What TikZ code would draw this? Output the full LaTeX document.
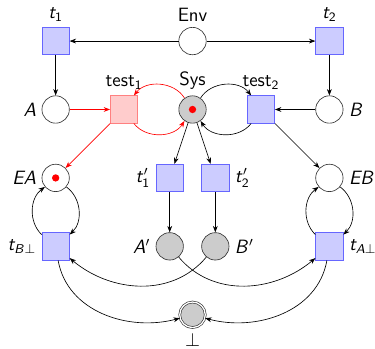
\documentclass[tikz,border=0pt]{standalone}
\usepackage{amsmath, amssymb}
\usepackage{xcolor}
\usepackage{tikz}
\usetikzlibrary{arrows.meta, positioning}
\DeclareMathAlphabet{\mathsfit}{OT1}{cmss}{m}{sl}

\begin{document}
\begin{tikzpicture}[
  font=\sffamily\large,
  place/.style={circle, draw=black!80, thin, minimum size=6mm, inner sep=0pt},
  marked/.style={place, fill=black!20},
  trans/.style={rectangle, draw=blue!60, fill=blue!20, thin, minimum size=6mm, inner sep=0pt},
  testtr/.style={rectangle, draw=red!50, fill=red!20, thin, minimum size=6mm, inner sep=0pt},
  arr/.style={-{Stealth[length=4pt, width=3pt]}, thin},
  redarr/.style={arr, red},
  every label/.style={label distance=0pt}
]
\useasboundingbox (-4.22,0.9) rectangle (4.0,-6.75);

% environment
\node[place] (env) at (0,0)  [label=above:Env] {};
\node[trans] (t1)  at (-3,0) [label=above:{$\mathsfit{t}_{\mathsf{1}}$}] {};
\node[trans] (t2)  at (3,0)  [label=above:{$\mathsfit{t}_{\mathsf{2}}$}] {};

% system and tests
\node[place]  (a)     at (-3,-1.5)   [label=left:{$\mathsfit{A}$}] {};
\node[testtr] (test1) at (-1.5,-1.5) [label=above:{test$_{\mathsf{1}}$}] {};
\node[marked] (sys)   at (0,-1.5)    [label=above:Sys] {};
\node[trans]  (test2) at (1.5,-1.5)  [label=above:{test$_{\mathsf{2}}$}] {};
\node[place]  (b)     at (3,-1.5)    [label=right:{$\mathsfit{B}$}] {};

\node[place] (ea)  at (-3,-3)   [label=left:{$\mathsfit{EA}$}] {};
\node[trans] (t1p) at (-0.5,-3) [label=left:{$\mathsfit{t}'_{\mathsf{1}}$}] {};
\node[trans] (t2p) at (0.5,-3)  [label=right:{$\mathsfit{t}'_{\mathsf{2}}$}] {};
\node[place] (eb)  at (3,-3)    [label=right:{$\mathsfit{EB}$}] {};

\node[trans]  (tb)  at (-3,-4.5)   [label=left:{$\mathsfit{t}_{\mathsfit{B}\bot}$}] {};
\node[marked] (ap)  at (-0.5,-4.5) [label=left:{$\mathsfit{A}'$}] {};
\node[marked] (bp)  at (0.5,-4.5)  [label=right:{$\mathsfit{B}'$}] {};
\node[trans]  (ta)  at (3,-4.5)    [label=right:{$\mathsfit{t}_{\mathsfit{A}\bot}$}] {};

\node[marked, double, double distance=0.8pt, minimum size=5.6mm] (bot) at (0,-6) [label=below:{$\bot$}] {};

% tokens
\fill[red] (sys.center) circle (0.8mm);
\fill[red] (ea.center) circle (0.8mm);

% arcs
\draw[arr] (env) -- (t1);
\draw[arr] (env) -- (t2);
\draw[arr] (t1) -- (a);
\draw[arr] (t2) -- (b);
\draw[redarr] (a) -- (test1);
\draw[arr] (b) -- (test2);
\draw[redarr] (sys) to[bend right=55] (test1);
\draw[redarr] (test1) to[bend right=55] (sys);
\draw[arr] (sys) to[bend left=55] (test2);
\draw[arr] (test2) to[bend left=55] (sys);
\draw[redarr] (test1) -- (ea);
\draw[arr] (test2) -- (eb);
\draw[arr] (sys) -- (t1p);
\draw[arr] (sys) -- (t2p);
\draw[arr] (t1p) -- (ap);
\draw[arr] (t2p) -- (bp);
\draw[arr] (tb) to[bend left=50] (ea);
\draw[arr] (ea) to[bend left=50] (tb);
\draw[arr] (ta) to[bend left=50] (eb);
\draw[arr] (eb) to[bend left=50] (ta);
\draw[arr] (ap) to[out=-50, in=-140] (ta);
\draw[arr] (bp) to[out=-130, in=-40] (tb);
\draw[arr] (tb) to[out=-80, in=195] (bot);
\draw[arr] (ta) to[out=-100, in=-15] (bot);
\end{tikzpicture}
\end{document}
